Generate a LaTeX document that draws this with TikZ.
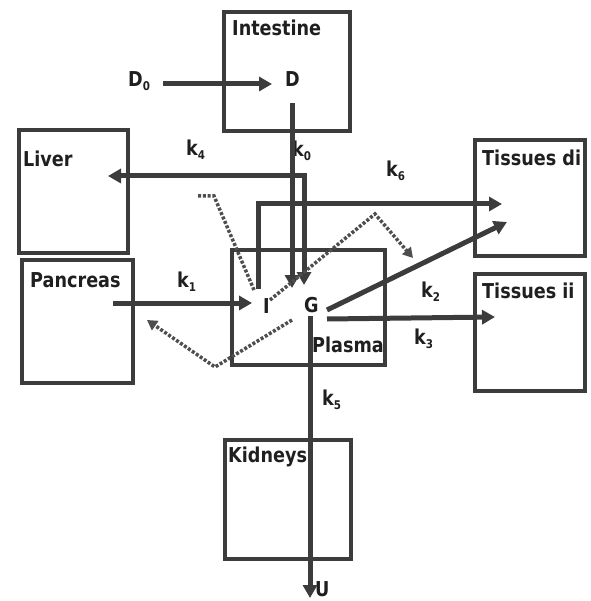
\documentclass[tikz,border=0pt]{standalone}
\usepackage{fontspec}
\setmainfont{DejaVu Sans}[FakeStretch=0.86]
\usepackage{xcolor}
\usetikzlibrary{arrows.meta,positioning}
\definecolor{linegray}{HTML}{3C3C3C}
\definecolor{dotgray}{HTML}{4E4E4E}
\newcommand{\lowidx}[1]{\raisebox{-4pt}{\fontsize{12}{12}\selectfont #1}}
\tikzset{
  box/.style={draw=linegray, line width=4.5pt, inner sep=0pt, outer sep=0pt},
  lbl/.style={anchor=base west, inner sep=0pt, font=\bfseries\fontsize{20.5}{24}\selectfont, text=black!88},
  flow/.style={draw=linegray, line width=5pt, -{Triangle[length=13pt,width=14pt]}},
  effect/.style={draw=dotgray, line width=3.5pt, dash pattern=on 3pt off 1.8pt},
}

\begin{document}
\begin{tikzpicture}[x=1pt,y=-1pt]
\useasboundingbox (0,0) rectangle (590,601);
% compartments
\foreach \nm/\cx/\cy/\w/\h in {intestine/287/71.5/126/119, liver/73.5/191.5/109/123,
  pancreas/77.5/321.5/111/123, plasma/308.5/307.5/153/115, tissuesdi/530/198/110/116,
  tissuesii/530/332.5/110/117, kidneys/288/499.5/126/119}{
  \node[box, minimum width=\w pt, minimum height=\h pt] (\nm) at (\cx,\cy) {};
}
\node[lbl] (intestinetxt) at (232,36) {Intestine};
\node[lbl] (livertxt) at (23,167) {Liver};
\node[lbl] (pancreastxt) at (30,287) {Pancreas};
\node[lbl] (plasmatxt) at (312,352) {Plasma};
\node[lbl] (tissuesditxt) at (482,166) {Tissues di};
\node[lbl] (tissuesiitxt) at (482,298) {Tissues ii};
\node[lbl] (kidneystxt) at (228,462) {Kidneys};
% species
\node[lbl] (dzero) at (128,87) {D\lowidx{0}};
\node[lbl] (dose) at (285,87) {D};
\node[lbl] (ins) at (263,313) {I};
\node[lbl] (glu) at (304,312) {G};
\node[lbl] (urine) at (315,596) {U};
% rate constants
\node[lbl] (kzero) at (292,157) {k\lowidx{0}};
\node[lbl] (kone) at (177,287) {k\lowidx{1}};
\node[lbl] (ktwo) at (421,297) {k\lowidx{2}};
\node[lbl] (kthree) at (414,344) {k\lowidx{3}};
\node[lbl] (kfour) at (186,156) {k\lowidx{4}};
\node[lbl] (kfive) at (322,405) {k\lowidx{5}};
\node[lbl] (ksix) at (386,177) {k\lowidx{6}};
% path points
\coordinate (dzeroout) at (163,84);
\coordinate (dosein) at (272,84);
\coordinate (doseout) at (292,103);
\coordinate (gluinD) at (292,288);
\coordinate (gluinL) at (304,285);
\coordinate (cornerL) at (304,176);
\coordinate (liverin) at (108,176);
\coordinate (pancout) at (113,303);
\coordinate (insin) at (252,303);
\coordinate (insout) at (258,289);
\coordinate (cornerS) at (258,204);
\coordinate (tissdiinA) at (502,204);
\coordinate (gluoutA) at (327,310);
\coordinate (tissdiinB) at (507,222);
\coordinate (gluoutB) at (327,319);
\coordinate (tissiiin) at (495,317);
\coordinate (gluoutC) at (310,316);
\coordinate (urinein) at (310,598);
% solid flows
\draw[flow] (dzeroout) -- (dosein);
\draw[flow] (doseout) -- (gluinD);
\draw[flow, {Triangle[length=13pt,width=14pt]}-{Triangle[length=13pt,width=14pt]}] (gluinL) -- (cornerL) -- (liverin);
\draw[flow] (pancout) -- (insin);
\draw[flow] (insout) -- (cornerS) -- (tissdiinA);
\draw[flow] (gluoutA) -- (tissdiinB);
\draw[flow] (gluoutB) -- (tissiiin);
\draw[flow] (gluoutC) -- (urinein);
% dotted effects
\draw[effect] (198,196) -- (214,196) -- (254,290);
\draw[effect, -{Triangle[length=10pt,width=11pt]}] (270,300) -- (375,214) -- (413,258);
\draw[effect, -{Triangle[length=10pt,width=11pt]}] (292,320) -- (215,367) -- (147,320);
\end{tikzpicture}
\end{document}
